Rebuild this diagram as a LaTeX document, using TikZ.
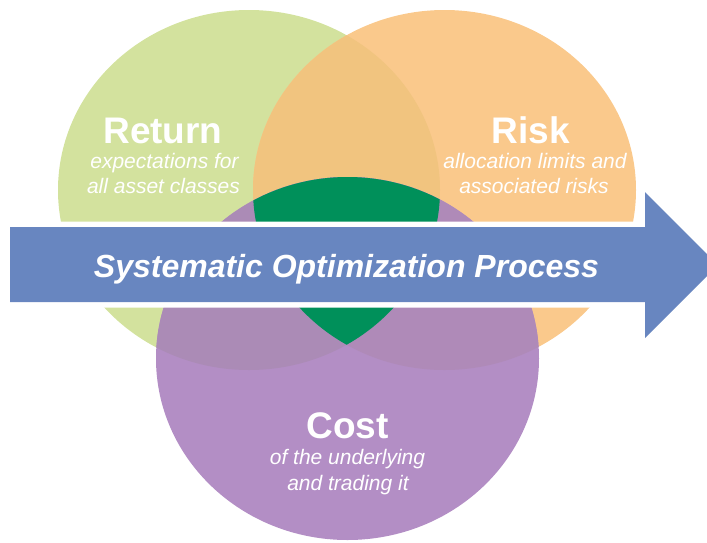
\documentclass[tikz,border=0pt]{standalone}
\usepackage{fontspec}
\setmainfont{Liberation Sans}
\definecolor{cgreen}{HTML}{D3E29E}
\definecolor{corange}{HTML}{FAC98C}
\definecolor{cgo}{HTML}{F1C47F}
\definecolor{cpurple}{HTML}{B38EC5}
\definecolor{cpg}{HTML}{AB8BB6}
\definecolor{cpo}{HTML}{AF8AB8}
\definecolor{cdark}{HTML}{00905A}
\definecolor{cblue}{HTML}{6886C0}
\tikzset{
  title/.style={text=white, font=\bfseries\fontsize{37}{40}\selectfont, anchor=base, inner sep=0pt},
  sub/.style={text=white, font=\itshape\fontsize{21}{24}\selectfont, anchor=base, inner sep=0pt},
  arrowtext/.style={text=white, font=\bfseries\itshape\fontsize{32}{36}\selectfont, anchor=base, inner sep=0pt}
}
\begin{document}
\begin{tikzpicture}[x=1pt,y=-1pt]
\useasboundingbox (0,0) rectangle (707,542);
\def\GreenE{(249,190) ellipse [x radius=191, y radius=180]}
\def\OrangeE{(444.5,190) ellipse [x radius=191.5, y radius=180]}
\def\PurpleE{(347.5,358.5) ellipse [x radius=191.5, y radius=181.5]}
% circles
\fill[cgreen] \GreenE;
\fill[corange] \OrangeE;
\begin{scope}
  \clip \GreenE;
  \fill[cgo] \OrangeE;
\end{scope}
\fill[cpurple] \PurpleE;
\begin{scope}
  \clip \PurpleE;
  \fill[cpg] \GreenE;
  \fill[cpo] \OrangeE;
  \clip \GreenE;
  \fill[cdark] \OrangeE;
\end{scope}
% arrow
\coordinate (a1) at (10,227);
\coordinate (a2) at (645,227);
\coordinate (a3) at (645,192);
\coordinate (a4) at (718,265);
\coordinate (a5) at (645,338);
\coordinate (a6) at (645,302);
\coordinate (a7) at (10,302);
\draw[white, line width=11pt, line join=miter] (a1) -- (a2) -- (a3) -- (a4) -- (a5) -- (a6) -- (a7) -- cycle;
\fill[cblue] (a1) -- (a2) -- (a3) -- (a4) -- (a5) -- (a6) -- (a7) -- cycle;
% texts
\node[title] (ret) at (163,143) {Return};
\node[sub] (ret1) at (164.5,168) {expectations for};
\node[sub] (ret2) at (163.5,193) {all asset classes};
\node[title] (risk) at (531,143) {Risk};
\node[sub] (risk1) at (535,168) {allocation limits and};
\node[sub] (risk2) at (534,193) {associated risks};
\node[title] (cost) at (347.5,438) {Cost};
\node[sub] (cost1) at (347.5,464) {of the underlying};
\node[sub] (cost2) at (348,490) {and trading it};
\node[arrowtext] (proc) at (346.5,277) {Systematic Optimization Process};
\end{tikzpicture}
\end{document}
